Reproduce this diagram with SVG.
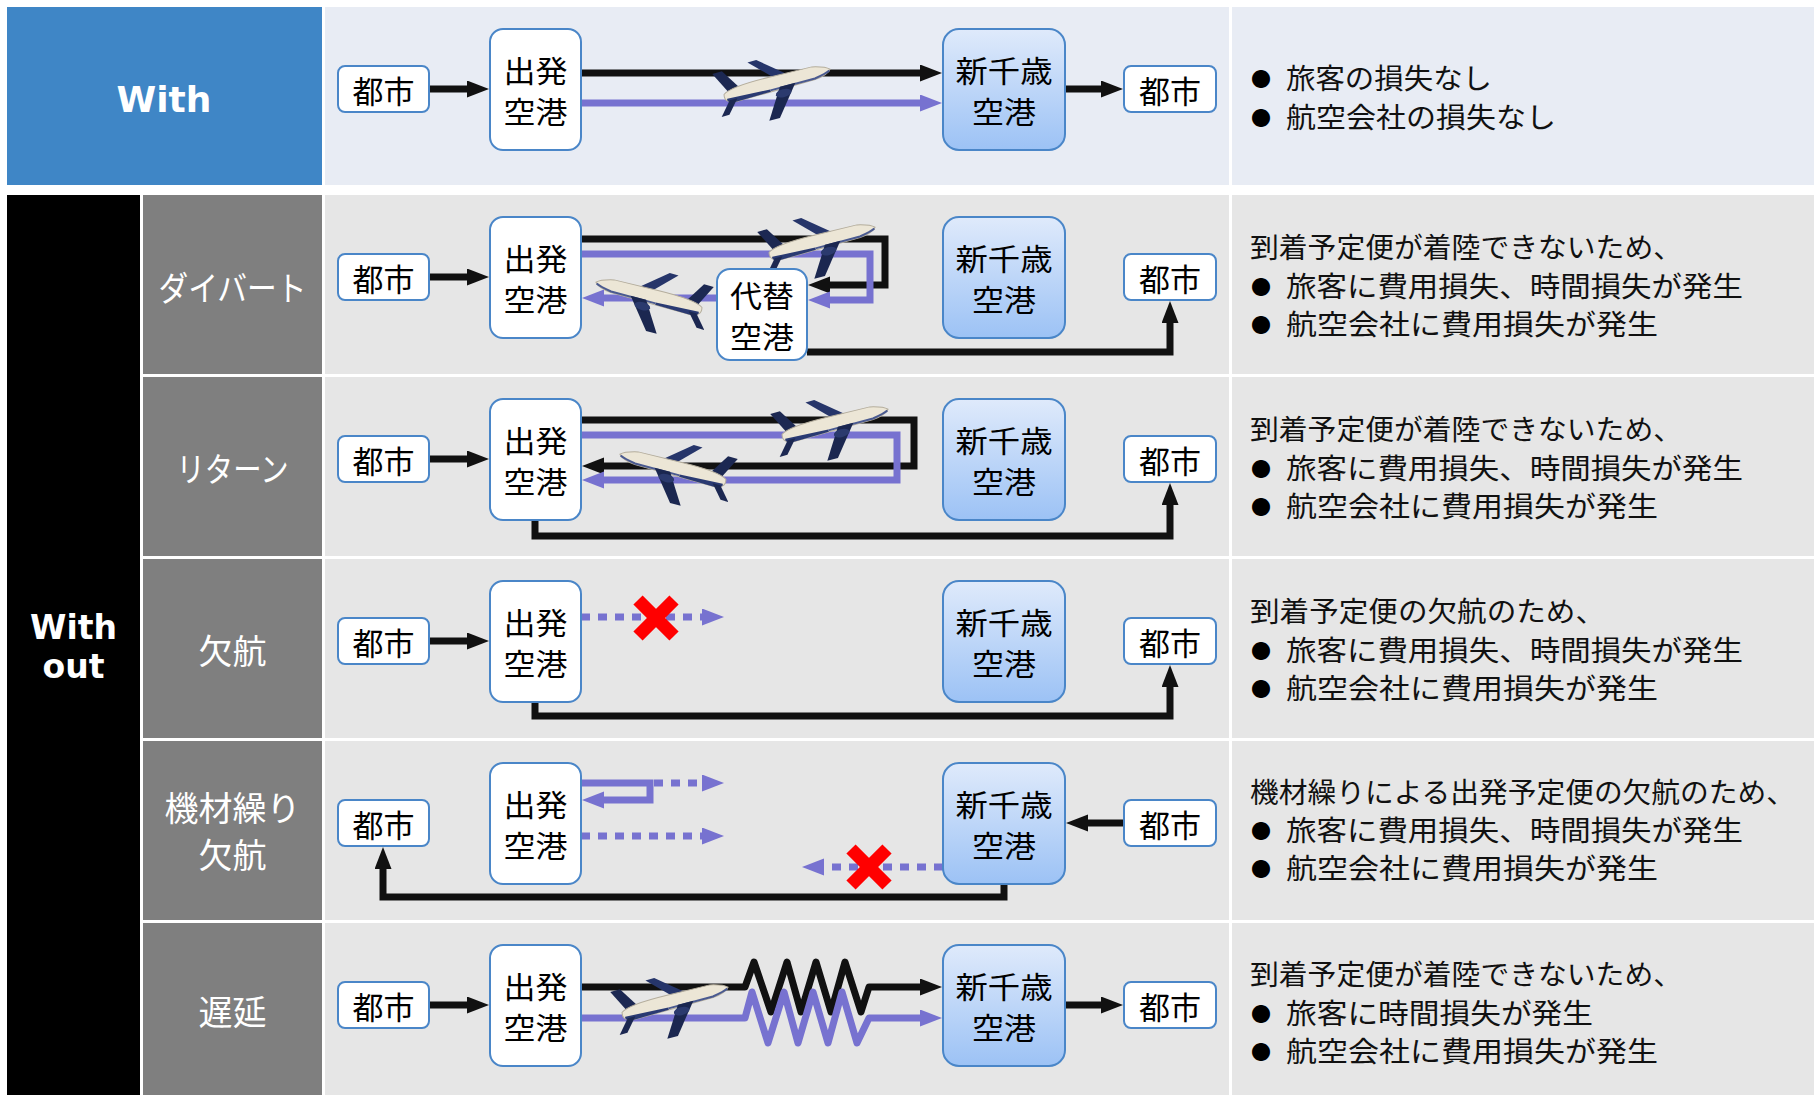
<svg xmlns="http://www.w3.org/2000/svg" xmlns:xlink="http://www.w3.org/1999/xlink" width="1814" height="1095" viewBox="0 0 1814 1095">
  <style>
    .cjk { font-family: "Noto Sans CJK JP", "Noto Sans", sans-serif; }
    .nt { font-size: 30px; fill: #000; text-anchor: middle; dominant-baseline: central; }
    .nt1 { font-size: 31px; fill: #000; text-anchor: middle; dominant-baseline: central; }
    .box { fill: #fff; stroke: #4a86c8; stroke-width: 2; }
    .hub { fill: url(#hubGrad); stroke: #4a86c8; stroke-width: 2; }
    .lk { fill: none; stroke: #111; stroke-width: 7; stroke-linejoin: miter; }
    .lp { fill: none; stroke: #7772d0; stroke-width: 7; stroke-linejoin: miter; }
    .dot { stroke-dasharray: 9 8; }
    .zig { stroke-linejoin: round; }
    .note { font-size: 28px; fill: #111; dominant-baseline: central; }
    .bul { font-size: 20px; fill: #000; text-anchor: middle; dominant-baseline: central; }
    .lbl { font-size: 34px; fill: #fff; text-anchor: middle; dominant-baseline: central; }
    .head { font-family: "DejaVu Sans", "Liberation Sans", sans-serif; font-weight: bold; fill: #fff; text-anchor: middle; }
    .cross { stroke: #ff0000; stroke-width: 13; }
  </style>
  <defs>
    <linearGradient id="hubGrad" x1="0" y1="0" x2="0" y2="1">
      <stop offset="0" stop-color="#dfeafb"/>
      <stop offset="1" stop-color="#9cc2f5"/>
    </linearGradient>
    <marker id="ak" markerUnits="userSpaceOnUse" markerWidth="23" markerHeight="18" refX="1" refY="8.5" orient="auto">
      <path d="M0,0 L22,8.5 L0,17 z" fill="#111"/>
    </marker>
    <marker id="ap" markerUnits="userSpaceOnUse" markerWidth="23" markerHeight="18" refX="1" refY="8.5" orient="auto">
      <path d="M0,0 L22,8.5 L0,17 z" fill="#7772d0"/>
    </marker>
    <!-- airliner seen from below, nose towards +x -->
    <g id="plane">
      <polygon points="-34,-4 -47,-4 -58,-26 -48,-26" fill="#1c2852"/>
      <polygon points="2,-5 16,-5 -12,-28 -21,-28" fill="#26356a"/>
      <path d="M-52,-3 Q-44,-9 -4,-8 L40,-7 Q53,-4 57,0 Q53,5 40,6 L-42,7 Q-54,6 -52,-3 z" fill="#ece6d6" stroke="#b4ad9c" stroke-width="1"/>
      <path d="M-50,2 L-6,4 L-6,6.5 L-42,7 Q-52,6 -50,2 z" fill="#2a3a72"/>
      <path d="M-6,5 L40,5 Q52,3 56,1" fill="none" stroke="#4a5a90" stroke-width="2"/>
      <polygon points="-40,4 -48,4 -60,18 -52,18" fill="#1c2852"/>
      <polygon points="4,4 20,4 -4,34 -15,34" fill="#1b2750"/>
      <ellipse cx="6" cy="11" rx="8" ry="4" fill="#2b3a6e"/>
    </g>
  </defs>

  <!-- table cells -->
  <g id="grid">
    <rect x="7" y="7" width="315" height="178" fill="#3f86c6"/>
    <rect x="325" y="7" width="904" height="178" fill="#e8ecf4"/>
    <rect x="1232" y="7" width="582" height="178" fill="#e8ecf4"/>
    <rect x="7" y="195" width="133" height="900" fill="#000"/>
    <rect x="143" y="195" width="179" height="179" fill="#7f7f7f"/>
    <rect x="143" y="377" width="179" height="179" fill="#7f7f7f"/>
    <rect x="143" y="559" width="179" height="179" fill="#7f7f7f"/>
    <rect x="143" y="741" width="179" height="179" fill="#7f7f7f"/>
    <rect x="143" y="923" width="179" height="172" fill="#7f7f7f"/>
    <rect x="325" y="195" width="904" height="179" fill="#e6e6e6"/>
    <rect x="325" y="377" width="904" height="179" fill="#e6e6e6"/>
    <rect x="325" y="559" width="904" height="179" fill="#e6e6e6"/>
    <rect x="325" y="741" width="904" height="179" fill="#e6e6e6"/>
    <rect x="325" y="923" width="904" height="172" fill="#e6e6e6"/>
    <rect x="1232" y="195" width="582" height="179" fill="#e6e6e6"/>
    <rect x="1232" y="377" width="582" height="179" fill="#e6e6e6"/>
    <rect x="1232" y="559" width="582" height="179" fill="#e6e6e6"/>
    <rect x="1232" y="741" width="582" height="179" fill="#e6e6e6"/>
    <rect x="1232" y="923" width="582" height="172" fill="#e6e6e6"/>
  </g>

  <!-- row headings -->
  <g id="headings">
    <text class="head" x="164" y="112" font-size="36">With</text>
    <text class="head" font-size="33"><tspan x="73.5" y="639">With</tspan><tspan x="73.5" y="678">out</tspan></text>
    <text class="cjk lbl" x="232.5" y="286" textLength="148" lengthAdjust="spacingAndGlyphs">ダイバート</text>
    <text class="cjk lbl" x="232.5" y="467" textLength="112" lengthAdjust="spacingAndGlyphs">リターン</text>
    <text class="cjk lbl" x="232.5" y="649">欠航</text>
    <text class="cjk lbl"><tspan x="232.5" y="806">機材繰り</tspan><tspan x="232.5" y="853">欠航</tspan></text>
    <text class="cjk lbl" x="232.5" y="1010">遅延</text>
  </g>

  <!-- connectors -->
  <g id="connectors">
    <!-- With -->
    <path class="lk" d="M429,89 H468" marker-end="url(#ak)"/>
    <path class="lk" d="M581,73 H921" marker-end="url(#ak)"/>
    <path class="lp" d="M581,103 H921" marker-end="url(#ap)"/>
    <path class="lk" d="M1065,89 H1102" marker-end="url(#ak)"/>
    <!-- divert -->
    <path class="lk" d="M429,277 H468" marker-end="url(#ak)"/>
    <path class="lk" d="M581,239 H885 V285 H829" marker-end="url(#ak)"/>
    <path class="lp" d="M581,254 H870 V300 H829" marker-end="url(#ap)"/>
    <path class="lp" d="M717,298 H603" marker-end="url(#ap)"/>
    <path class="lk" d="M807,352 H1170 V322" marker-end="url(#ak)"/>
    <!-- return -->
    <path class="lk" d="M429,459 H468" marker-end="url(#ak)"/>
    <path class="lk" d="M581,420 H914 V466 H603" marker-end="url(#ak)"/>
    <path class="lp" d="M581,435 H897 V480 H603" marker-end="url(#ap)"/>
    <path class="lk" d="M535,520 V536 H1170 V504" marker-end="url(#ak)"/>
    <!-- cancellation -->
    <path class="lk" d="M429,641 H468" marker-end="url(#ak)"/>
    <path class="lp dot" d="M581,617 H703" marker-end="url(#ap)"/>
    <path class="lk" d="M535,702 V716 H1170 V686" marker-end="url(#ak)"/>
    <!-- equipment rotation cancellation -->
    <path class="lk" d="M1124,823 H1087" marker-end="url(#ak)"/>
    <path class="lp" d="M581,783 H650 V800 H603" marker-end="url(#ap)"/>
    <path class="lp dot" d="M654,783 H703" marker-end="url(#ap)"/>
    <path class="lp dot" d="M581,836 H703" marker-end="url(#ap)"/>
    <path class="lp dot" d="M943,867 H823" marker-end="url(#ap)"/>
    <path class="lk" d="M1004,884 V897 H383 V868" marker-end="url(#ak)"/>
    <!-- delay -->
    <path class="lk" d="M429,1005 H468" marker-end="url(#ak)"/>
    <path class="lk zig" d="M581,987 H745 L754,962 L771,1012 L787,962 L801,1012 L816,962 L831,1012 L845,962 L861,1012 L869,987 H921" marker-end="url(#ak)"/>
    <path class="lp zig" d="M581,1018 H745 L752,992 L768,1043 L784,992 L798,1043 L813,992 L828,1043 L842,992 L857,1043 L869,1018 H921" marker-end="url(#ap)"/>
    <path class="lk" d="M1065,1005 H1102" marker-end="url(#ak)"/>
  </g>

  <!-- cancelled flights -->
  <g id="cancel-marks">
    <g transform="translate(656,618)">
      <line class="cross" x1="-18" y1="-18" x2="18" y2="18"/>
      <line class="cross" x1="-18" y1="18" x2="18" y2="-18"/>
    </g>
    <g transform="translate(869,867)">
      <line class="cross" x1="-18" y1="-18" x2="18" y2="18"/>
      <line class="cross" x1="-18" y1="18" x2="18" y2="-18"/>
    </g>
  </g>

  <!-- aircraft -->
  <g id="aircraft">
    <use xlink:href="#plane" transform="translate(775,84) rotate(-15)"/>
    <use xlink:href="#plane" transform="translate(820,242) rotate(-15)"/>
    <use xlink:href="#plane" transform="translate(651,297) scale(-1,1) rotate(-15)"/>
    <use xlink:href="#plane" transform="translate(833,424) rotate(-15)"/>
    <use xlink:href="#plane" transform="translate(675,469) scale(-1,1) rotate(-15)"/>
    <use xlink:href="#plane" transform="translate(673,1002) rotate(-15)"/>
  </g>

  <!-- With row nodes -->
  <g id="with-cityA" class="cjk"><rect class="box" x="338" y="66" width="91" height="46" rx="7"/><text class="nt1" x="383.5" y="89">都市</text></g>
  <g id="with-origin" class="cjk"><rect class="box" x="490" y="29" width="91" height="121" rx="13"/><text class="nt"><tspan x="535.5" y="69" textLength="64" lengthAdjust="spacingAndGlyphs">出発</tspan><tspan x="535.5" y="110" textLength="64" lengthAdjust="spacingAndGlyphs">空港</tspan></text></g>
  <g id="with-cts" class="cjk"><rect class="hub" x="943" y="29" width="122" height="121" rx="16"/><text class="nt"><tspan x="1004" y="69" textLength="97" lengthAdjust="spacingAndGlyphs">新千歳</tspan><tspan x="1004" y="110" textLength="64" lengthAdjust="spacingAndGlyphs">空港</tspan></text></g>
  <g id="with-cityB" class="cjk"><rect class="box" x="1124" y="66" width="92" height="46" rx="7"/><text class="nt1" x="1170" y="89">都市</text></g>

  <!-- divert row nodes -->
  <g id="divert-cityA" class="cjk"><rect class="box" x="338" y="254" width="91" height="46" rx="7"/><text class="nt1" x="383.5" y="277">都市</text></g>
  <g id="divert-origin" class="cjk"><rect class="box" x="490" y="217" width="91" height="121" rx="13"/><text class="nt"><tspan x="535.5" y="257" textLength="64" lengthAdjust="spacingAndGlyphs">出発</tspan><tspan x="535.5" y="298" textLength="64" lengthAdjust="spacingAndGlyphs">空港</tspan></text></g>
  <g id="divert-alt" class="cjk"><rect class="box" x="717" y="269" width="90" height="91" rx="13"/><text class="nt"><tspan x="762" y="294" textLength="64" lengthAdjust="spacingAndGlyphs">代替</tspan><tspan x="762" y="335" textLength="64" lengthAdjust="spacingAndGlyphs">空港</tspan></text></g>
  <g id="divert-cts" class="cjk"><rect class="hub" x="943" y="217" width="122" height="121" rx="16"/><text class="nt"><tspan x="1004" y="257" textLength="97" lengthAdjust="spacingAndGlyphs">新千歳</tspan><tspan x="1004" y="298" textLength="64" lengthAdjust="spacingAndGlyphs">空港</tspan></text></g>
  <g id="divert-cityB" class="cjk"><rect class="box" x="1124" y="254" width="92" height="46" rx="7"/><text class="nt1" x="1170" y="277">都市</text></g>

  <!-- return row nodes -->
  <g id="return-cityA" class="cjk"><rect class="box" x="338" y="436" width="91" height="46" rx="7"/><text class="nt1" x="383.5" y="459">都市</text></g>
  <g id="return-origin" class="cjk"><rect class="box" x="490" y="399" width="91" height="121" rx="13"/><text class="nt"><tspan x="535.5" y="439" textLength="64" lengthAdjust="spacingAndGlyphs">出発</tspan><tspan x="535.5" y="480" textLength="64" lengthAdjust="spacingAndGlyphs">空港</tspan></text></g>
  <g id="return-cts" class="cjk"><rect class="hub" x="943" y="399" width="122" height="121" rx="16"/><text class="nt"><tspan x="1004" y="439" textLength="97" lengthAdjust="spacingAndGlyphs">新千歳</tspan><tspan x="1004" y="480" textLength="64" lengthAdjust="spacingAndGlyphs">空港</tspan></text></g>
  <g id="return-cityB" class="cjk"><rect class="box" x="1124" y="436" width="92" height="46" rx="7"/><text class="nt1" x="1170" y="459">都市</text></g>

  <!-- cancellation row nodes -->
  <g id="cancel-cityA" class="cjk"><rect class="box" x="338" y="618" width="91" height="46" rx="7"/><text class="nt1" x="383.5" y="641">都市</text></g>
  <g id="cancel-origin" class="cjk"><rect class="box" x="490" y="581" width="91" height="121" rx="13"/><text class="nt"><tspan x="535.5" y="621" textLength="64" lengthAdjust="spacingAndGlyphs">出発</tspan><tspan x="535.5" y="662" textLength="64" lengthAdjust="spacingAndGlyphs">空港</tspan></text></g>
  <g id="cancel-cts" class="cjk"><rect class="hub" x="943" y="581" width="122" height="121" rx="16"/><text class="nt"><tspan x="1004" y="621" textLength="97" lengthAdjust="spacingAndGlyphs">新千歳</tspan><tspan x="1004" y="662" textLength="64" lengthAdjust="spacingAndGlyphs">空港</tspan></text></g>
  <g id="cancel-cityB" class="cjk"><rect class="box" x="1124" y="618" width="92" height="46" rx="7"/><text class="nt1" x="1170" y="641">都市</text></g>

  <!-- equipment rotation row nodes -->
  <g id="rotation-cityA" class="cjk"><rect class="box" x="338" y="800" width="91" height="46" rx="7"/><text class="nt1" x="383.5" y="823">都市</text></g>
  <g id="rotation-origin" class="cjk"><rect class="box" x="490" y="763" width="91" height="121" rx="13"/><text class="nt"><tspan x="535.5" y="803" textLength="64" lengthAdjust="spacingAndGlyphs">出発</tspan><tspan x="535.5" y="844" textLength="64" lengthAdjust="spacingAndGlyphs">空港</tspan></text></g>
  <g id="rotation-cts" class="cjk"><rect class="hub" x="943" y="763" width="122" height="121" rx="16"/><text class="nt"><tspan x="1004" y="803" textLength="97" lengthAdjust="spacingAndGlyphs">新千歳</tspan><tspan x="1004" y="844" textLength="64" lengthAdjust="spacingAndGlyphs">空港</tspan></text></g>
  <g id="rotation-cityB" class="cjk"><rect class="box" x="1124" y="800" width="92" height="46" rx="7"/><text class="nt1" x="1170" y="823">都市</text></g>

  <!-- delay row nodes -->
  <g id="delay-cityA" class="cjk"><rect class="box" x="338" y="982" width="91" height="46" rx="7"/><text class="nt1" x="383.5" y="1005">都市</text></g>
  <g id="delay-origin" class="cjk"><rect class="box" x="490" y="945" width="91" height="121" rx="13"/><text class="nt"><tspan x="535.5" y="985" textLength="64" lengthAdjust="spacingAndGlyphs">出発</tspan><tspan x="535.5" y="1026" textLength="64" lengthAdjust="spacingAndGlyphs">空港</tspan></text></g>
  <g id="delay-cts" class="cjk"><rect class="hub" x="943" y="945" width="122" height="121" rx="16"/><text class="nt"><tspan x="1004" y="985" textLength="97" lengthAdjust="spacingAndGlyphs">新千歳</tspan><tspan x="1004" y="1026" textLength="64" lengthAdjust="spacingAndGlyphs">空港</tspan></text></g>
  <g id="delay-cityB" class="cjk"><rect class="box" x="1124" y="982" width="92" height="46" rx="7"/><text class="nt1" x="1170" y="1005">都市</text></g>

  <!-- impact notes -->
  <g id="notes" class="cjk">
    <text class="bul" x="1261" y="78">●</text>
    <text class="note" x="1286" y="77" textLength="206" lengthAdjust="spacingAndGlyphs">旅客の損失なし</text>
    <text class="bul" x="1261" y="117">●</text>
    <text class="note" x="1286" y="116" textLength="270" lengthAdjust="spacingAndGlyphs">航空会社の損失なし</text>

    <text class="note" x="1250" y="246" textLength="432" lengthAdjust="spacingAndGlyphs">到着予定便が着陸できないため、</text>
    <text class="bul" x="1261" y="286">●</text>
    <text class="note" x="1286" y="285" textLength="457" lengthAdjust="spacingAndGlyphs">旅客に費用損失、時間損失が発生</text>
    <text class="bul" x="1261" y="324">●</text>
    <text class="note" x="1286" y="323" textLength="372" lengthAdjust="spacingAndGlyphs">航空会社に費用損失が発生</text>

    <text class="note" x="1250" y="428" textLength="432" lengthAdjust="spacingAndGlyphs">到着予定便が着陸できないため、</text>
    <text class="bul" x="1261" y="468">●</text>
    <text class="note" x="1286" y="467" textLength="457" lengthAdjust="spacingAndGlyphs">旅客に費用損失、時間損失が発生</text>
    <text class="bul" x="1261" y="506">●</text>
    <text class="note" x="1286" y="505" textLength="372" lengthAdjust="spacingAndGlyphs">航空会社に費用損失が発生</text>

    <text class="note" x="1250" y="610" textLength="355" lengthAdjust="spacingAndGlyphs">到着予定便の欠航のため、</text>
    <text class="bul" x="1261" y="650">●</text>
    <text class="note" x="1286" y="649" textLength="457" lengthAdjust="spacingAndGlyphs">旅客に費用損失、時間損失が発生</text>
    <text class="bul" x="1261" y="688">●</text>
    <text class="note" x="1286" y="687" textLength="372" lengthAdjust="spacingAndGlyphs">航空会社に費用損失が発生</text>

    <text class="note" x="1250" y="791" textLength="545" lengthAdjust="spacingAndGlyphs">機材繰りによる出発予定便の欠航のため、</text>
    <text class="bul" x="1261" y="830">●</text>
    <text class="note" x="1286" y="829" textLength="457" lengthAdjust="spacingAndGlyphs">旅客に費用損失、時間損失が発生</text>
    <text class="bul" x="1261" y="868">●</text>
    <text class="note" x="1286" y="867" textLength="372" lengthAdjust="spacingAndGlyphs">航空会社に費用損失が発生</text>

    <text class="note" x="1250" y="973" textLength="432" lengthAdjust="spacingAndGlyphs">到着予定便が着陸できないため、</text>
    <text class="bul" x="1261" y="1013">●</text>
    <text class="note" x="1286" y="1012" textLength="307" lengthAdjust="spacingAndGlyphs">旅客に時間損失が発生</text>
    <text class="bul" x="1261" y="1051">●</text>
    <text class="note" x="1286" y="1050" textLength="372" lengthAdjust="spacingAndGlyphs">航空会社に費用損失が発生</text>
  </g>
</svg>
